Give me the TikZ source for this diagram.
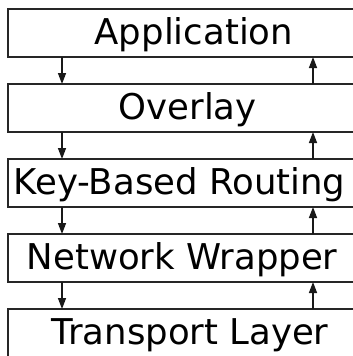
\documentclass[tikz,border=0pt]{standalone}
\usepackage{fontspec}
\setmainfont{DejaVu Sans}
\usetikzlibrary{arrows.meta}
\begin{document}
\begin{tikzpicture}[x=1pt,y=-1pt,
  layerbox/.style={draw=black!85,line width=1.2pt,minimum width=372pt,minimum height=48pt,inner sep=0pt,outer sep=0pt},
  layertext/.style={anchor=base west,inner sep=0pt,font=\fontsize{35.5}{40}\selectfont},
  arr/.style={draw=black!90,line width=1.4pt,-{Triangle[length=11pt,width=8pt]}}]
\useasboundingbox (0,0) rectangle (353,356);
\clip (0,0) rectangle (353,356);
\node[layerbox] (b1) at (194,33) {};
\node[layerbox] (b2) at (194,108) {};
\node[layerbox] (b3) at (194,183) {};
\node[layerbox] (b4) at (194,258) {};
\node[layerbox] (b5) at (194,333) {};
\node[layertext] (t1) at (94.5,44) {Application};
\node[layertext] (t2) at (118.5,119) {Overlay};
\node[layertext] (t3) at (13.5,194) {Key-Based Routing};
\node[layertext] (t4) at (26.5,269) {Network Wrapper};
\node[layertext] (t5) at (51.5,344) {Transport Layer};
\coordinate (L) at (62,0);
\coordinate (R) at (313,0);
\draw[arr] (b1.south -| L) -- (b2.north -| L);
\draw[arr] (b2.south -| L) -- (b3.north -| L);
\draw[arr] (b3.south -| L) -- (b4.north -| L);
\draw[arr] (b4.south -| L) -- (b5.north -| L);
\draw[arr] (b2.north -| R) -- (b1.south -| R);
\draw[arr] (b3.north -| R) -- (b2.south -| R);
\draw[arr] (b4.north -| R) -- (b3.south -| R);
\draw[arr] (b5.north -| R) -- (b4.south -| R);
\end{tikzpicture}
\end{document}
